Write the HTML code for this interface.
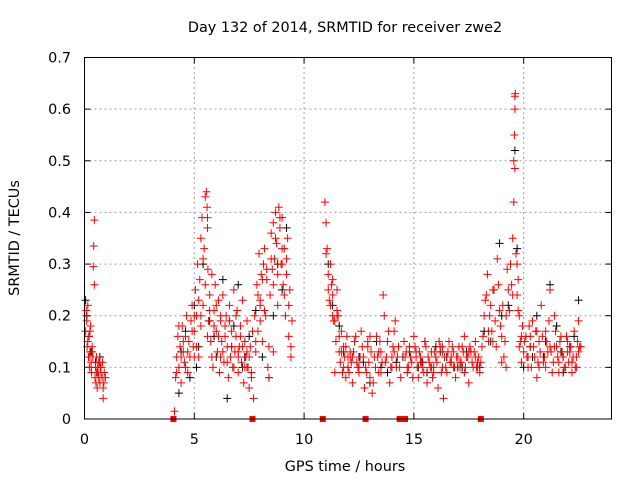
<!DOCTYPE html>
<html><head><meta charset="utf-8"><style>
html,body{margin:0;padding:0;background:#fff;}
svg{display:block;font-family:"DejaVu Sans","Liberation Sans",sans-serif;}
</style></head><body>
<svg id="chart" width="640" height="480" viewBox="0 0 640 480" xmlns="http://www.w3.org/2000/svg">
<rect width="640" height="480" fill="#fff"/>
<text x="345" y="32" font-size="14.4" text-anchor="middle">Day 132 of 2014, SRMTID for receiver zwe2</text>
<text x="345" y="471" font-size="14.4" text-anchor="middle">GPS time / hours</text>
<text x="0" y="0" font-size="14.4" text-anchor="middle" transform="translate(19,238) rotate(-90)">SRMTID / TECUs</text>
<g id="grid"></g>
<g id="axes"></g>
<g id="black-series"></g>
<g id="red-series"></g>
<g id="zero-markers"></g>
<rect x="84.5" y="57.5" width="527" height="361.5" fill="none" stroke="#000" stroke-width="1"/>
</svg>
<script>
const xTicks=[0,5,10,15,20];
const yTicks=[0,0.1,0.2,0.3,0.4,0.5,0.6,0.7];
const yTickLabels=["0","0.1","0.2","0.3","0.4","0.5","0.6","0.7"];
const redHours=[0.05,0.08,0.1,0.12,0.15,0.18,0.2,0.22,0.25,0.28,0.3,0.32,0.35,0.38,0.4,0.42,0.45,0.45,0.48,0.5,0.52,0.55,0.58,0.6,0.62,0.65,0.68,0.7,0.72,0.75,0.8,0.82,0.85,0.88,0.9,0.95,
4.1,4.15,4.2,4.25,4.3,4.35,4.4,4.45,4.5,4.55,4.6,4.65,4.7,4.75,4.8,
4.85,4.9,4.95,5.0,5.05,5.1,5.15,5.2,5.25,5.3,5.35,5.4,5.45,5.5,5.55,5.58,5.6,5.62,5.65,5.7,5.75,5.8,5.85,5.9,5.95,6.0,
6.05,6.1,6.15,6.2,6.25,6.3,6.35,6.4,6.45,6.5,6.55,6.6,6.65,6.7,6.75,6.8,6.85,6.9,6.95,7.0,7.05,7.1,7.15,7.2,7.25,7.3,7.35,7.4,7.45,7.5,7.55,7.6,7.65,7.7,
7.75,7.8,7.85,7.9,7.95,8.0,8.05,8.1,8.15,8.2,8.25,8.3,8.35,8.4,8.45,8.5,8.55,8.6,8.65,8.7,8.75,8.8,8.85,8.9,8.95,9.0,9.05,9.1,9.15,9.2,9.25,9.3,9.35,9.4,9.45,
10.95,11.0,11.05,11.1,11.15,11.2,11.25,11.3,11.35,11.4,11.45,11.5,11.55,11.6,11.65,11.7,11.75,11.8,11.85,11.9,11.95,
12.0,12.1,12.2,12.3,12.4,12.5,12.6,12.7,12.75,12.8,12.9,13.0,13.1,13.2,13.3,13.4,13.5,13.6,13.65,13.7,13.8,13.9,14.0,14.1,14.2,14.3,14.4,
14.55,14.6,14.7,14.8,14.9,15.0,15.1,15.2,15.3,15.4,15.5,15.6,15.7,15.8,15.9,16.0,16.1,16.2,16.3,16.35,16.4,16.5,16.6,16.7,16.8,16.9,17.0,17.1,17.2,17.3,17.4,17.5,
17.6,17.7,17.8,17.9,18.0,18.1,18.2,18.3,18.35,18.4,18.5,18.6,18.7,18.8,18.85,18.9,19.0,19.1,19.2,
19.3,19.4,19.5,19.55,19.55,19.58,19.6,19.6,19.62,19.6,19.7,19.75,19.8,19.85,19.9,19.95,
20.0,20.1,20.2,20.3,20.4,20.5,20.6,20.7,20.8,20.9,21.0,21.1,21.2,21.3,21.4,21.5,21.6,21.7,21.8,21.9,22.0,22.1,22.2,22.3,22.4,22.5,22.55,
4.6,5.0,5.3,5.6,6.2,6.6,7.0,7.4,8.0,8.6,9.0,11.3,12.1,12.5,13.0,13.4,14.0,14.8,15.3,15.8,16.3,16.8,17.3,17.8,18.4,19.0,20.3,20.7,21.2,21.6,22.0,22.4];
const redValues=[.17,.21,.19,.14,.22,.12,.16,.10,.13,.18,.11,.09,.14,.12,.295,.335,.385,.26,.08,.1,.07,.12,.06,.1,.09,.08,.11,.07,.1,.09,.08,.11,.04,.07,.09,.08,
.015,.08,.12,.16,.1,.14,.07,.18,.13,.11,.16,.2,.09,.15,.12,
.19,.22,.14,.17,.25,.2,.3,.12,.27,.35,.39,.22,.33,.43,.44,.41,.37,.29,.19,.24,.15,.28,.1,.21,.26,.17,
.13,.23,.09,.19,.15,.24,.11,.18,.2,.14,.08,.22,.12,.17,.1,.25,.13,.16,.21,.09,.14,.18,.11,.23,.07,.15,.12,.19,.1,.06,.14,.09,.17,.04,
.2,.13,.26,.17,.32,.23,.28,.15,.3,.33,.2,.27,.1,.08,.24,.36,.29,.38,.31,.4,.34,.22,.41,.37,.3,.39,.26,.33,.2,.28,.35,.16,.25,.12,.19,
.42,.38,.33,.28,.23,.3,.26,.24,.19,.09,.15,.25,.2,.13,.11,.17,.09,.14,.12,.08,.16,
.1,.13,.07,.15,.11,.09,.17,.12,.06,.1,.14,.08,.05,.12,.16,.09,.13,.24,.2,.11,.15,.07,.12,.17,.1,.14,.08,
.15,.12,.09,.14,.11,.16,.13,.08,.12,.1,.15,.07,.11,.13,.09,.12,.06,.14,.1,.04,.12,.09,.15,.11,.13,.08,.12,.1,.14,.09,.12,.07,
.13,.1,.15,.11,.09,.14,.2,.24,.28,.17,.22,.15,.19,.31,.26,.21,.16,.12,.2,
.25,.3,.24,.42,.5,.55,.6,.625,.63,.485,.3,.27,.2,.15,.11,.18,
.13,.16,.1,.14,.19,.12,.08,.15,.22,.11,.17,.13,.25,.09,.2,.14,.11,.16,.12,.1,.15,.13,.09,.17,.12,.19,.14,
.1,.12,.2,.16,.12,.19,.13,.1,.22,.13,.3,.2,.12,.1,.16,.13,.1,.14,.11,.1,.13,.1,.16,.12,.15,.11,.16,.1,.14,.09,.13,.1];
const redHours2=[0.1,0.15,0.2,0.25,0.3,0.35,0.55,0.65,0.75,0.85,
4.2,4.3,4.4,4.5,4.6,4.7,4.9,5.0,5.1,5.2,5.3,5.4,5.5,5.6,5.7,5.8,5.9,6.0,6.1,6.2,6.3,6.4,6.5,6.6,6.7,6.8,6.9,7.0,7.1,7.2,7.3,7.4,7.5,7.6,7.8,7.9,8.0,8.1,8.2,8.3,8.4,8.5,8.6,8.7,8.8,8.9,9.0,9.1,9.2,9.3,9.4,
11.0,11.1,11.2,11.3,11.4,11.5,11.6,11.7,11.8,11.9,12.0,12.05,12.15,12.25,12.35,12.45,12.55,12.65,12.85,12.95,13.05,13.15,13.25,13.35,13.45,13.55,13.75,13.85,13.95,14.05,14.15,14.25,14.35,
14.65,14.75,14.85,14.95,15.05,15.15,15.25,15.35,15.45,15.55,15.65,15.75,15.85,15.95,16.05,16.15,16.25,16.45,16.55,16.65,16.75,16.85,16.95,17.05,17.15,17.25,17.35,17.45,17.55,17.65,17.75,17.85,17.95,
18.05,18.15,18.25,18.45,18.55,18.65,18.75,18.95,19.05,19.15,19.25,19.35,19.45,19.5,19.65,19.7,19.75,19.8,19.9,
20.05,20.15,20.25,20.35,20.45,20.55,20.65,20.75,20.85,20.95,21.05,21.15,21.25,21.35,21.45,21.55,21.65,21.75,21.85,21.95,22.05,22.15,22.25,22.35,22.45,22.5,
11.5,12.2,12.9,13.5,14.1,14.7,15.1,15.5,15.9,16.3,16.7,17.1,17.5,17.9,18.6,19.2,20.2,20.6,21.0,21.4,21.8,22.2,22.6];
const redValues2=[.2,.15,.12,.17,.1,.13,.09,.11,.1,.06,
.09,.18,.12,.15,.1,.13,.17,.2,.14,.23,.18,.31,.26,.39,.21,.12,.18,.22,.16,.2,.13,.16,.11,.19,.14,.1,.2,.12,.16,.14,.1,.13,.12,.08,.15,.24,.19,.27,.21,.29,.14,.31,.26,.35,.28,.39,.33,.24,.31,.22,.14,
.32,.25,.22,.27,.19,.21,.16,.13,.1,.14,.12,.09,.11,.13,.16,.1,.12,.14,.09,.11,.13,.07,.1,.12,.15,.11,.12,.17,.1,.14,.19,.12,.1,
.13,.1,.12,.08,.14,.1,.13,.11,.09,.14,.12,.1,.08,.13,.11,.15,.09,.1,.13,.11,.14,.1,.12,.14,.11,.13,.1,.12,.14,.11,.13,.1,.12,
.11,.16,.23,.2,.17,.25,.14,.18,.22,.15,.29,.21,.26,.35,.32,.24,.21,.14,.16,
.15,.12,.18,.1,.14,.17,.11,.13,.16,.12,.15,.19,.13,.11,.17,.12,.15,.13,.1,.16,.11,.14,.12,.1,.15,.13,
.2,.12,.15,.09,.13,.1,.12,.15,.1,.14,.12,.11,.13,.1,.25,.1,.12,.17,.1,.14,.12,.11,.14];
const blackHours=[0.05,0.1,0.2,0.3,0.5,0.6,0.7,4.3,4.6,4.8,5.0,5.2,5.4,5.7,6.0,6.3,6.5,6.8,7.0,7.2,7.5,7.8,8.1,8.4,8.8,9.2,
11.1,11.3,11.6,12.0,12.5,13.0,13.3,13.8,14.2,14.8,15.2,15.6,16.0,16.5,17.0,17.4,18.0,18.5,18.9,19.3,19.6,19.7,20.0,20.3,20.6,20.9,21.2,21.5,21.8,22.1,22.5,
4.4,5.1,5.9,6.7,7.3,8.6,9.0,11.8,12.7,13.5,14.5,15.4,16.2,17.2,18.2,19.0,20.4,21.0,21.7,22.3];
const blackValues=[.23,.2,.16,.13,.11,.09,.12,.05,.17,.08,.22,.14,.3,.19,.12,.27,.04,.18,.26,.1,.16,.21,.12,.08,.3,.37,
.3,.22,.18,.1,.12,.07,.15,.09,.11,.13,.1,.09,.14,.12,.1,.13,.1,.15,.34,.22,.52,.33,.1,.14,.2,.12,.26,.18,.09,.14,.23,
.13,.1,.16,.14,.12,.2,.25,.13,.11,.1,.12,.11,.13,.1,.17,.2,.12,.15,.13,.16];
const squareHours=[4.05,7.65,10.85,12.8,14.35,14.5,14.6,18.05];

const X0=84.5,X1=611.5,Y0=419,Y1=57.5,XMAX=24,YMAX=0.7;
const sx=h=>X0+(X1-X0)*h/XMAX;
const sy=v=>Y0-(Y0-Y1)*v/YMAX;
const NS="http://www.w3.org/2000/svg";
function mk(tag,attrs,parent){const e=document.createElementNS(NS,tag);for(const k in attrs)e.setAttribute(k,attrs[k]);parent.appendChild(e);return e;}
const grid=document.getElementById('grid'),axes=document.getElementById('axes');
yTicks.forEach((v,i)=>{
  const y=sy(v);
  if(i>0&&i<yTicks.length-1){const g=mk('line',{x1:X0,x2:X1,y1:y,y2:y,stroke:'#a0a0a0','stroke-dasharray':'2,3'},grid);
  
  }
  mk('line',{x1:X0,x2:X0+6,y1:y,y2:y,stroke:'#000'},axes);
  mk('line',{x1:X1-6,x2:X1,y1:y,y2:y,stroke:'#000'},axes);
  const t=mk('text',{x:71,y:y+5,'font-size':'14.4','text-anchor':'end'},axes);
  
  
  t.textContent=yTickLabels[i];
});
xTicks.forEach(h=>{
  const x=sx(h);
  if(h>0){const g=mk('line',{x1:x,x2:x,y1:Y0,y2:Y1,stroke:'#a0a0a0','stroke-dasharray':'2,3'},grid);
  
  }
  mk('line',{x1:x,x2:x,y1:Y0,y2:Y0-6,stroke:'#000'},axes);
  mk('line',{x1:x,x2:x,y1:Y1,y2:Y1+6,stroke:'#000'},axes);
  const t=mk('text',{x:x,y:444,'font-size':'14.4','text-anchor':'middle'},axes);
  
  
  t.textContent=String(h);
});
function plus(parent,h,v,color){
  const x=sx(h),y=sy(v);
  const p=mk('path',{d:`M${x-4},${y}H${x+4}M${x},${y-4}V${y+4}`,stroke:color,'stroke-width':'1'},parent);
  
  
}
const bg=document.getElementById('black-series');
blackHours.forEach((h,i)=>plus(bg,h,blackValues[i],'#000'));
const rg=document.getElementById('red-series');
redHours.forEach((h,i)=>plus(rg,h,redValues[i],'#f00'));
redHours2.forEach((h,i)=>plus(rg,h,redValues2[i],'#f00'));
const zg=document.getElementById('zero-markers');
squareHours.forEach(h=>{
  const r=mk('rect',{x:sx(h)-3,y:Y0-3,width:6,height:6,fill:'#f00'},zg);
  
  
});
</script>
</body></html>
